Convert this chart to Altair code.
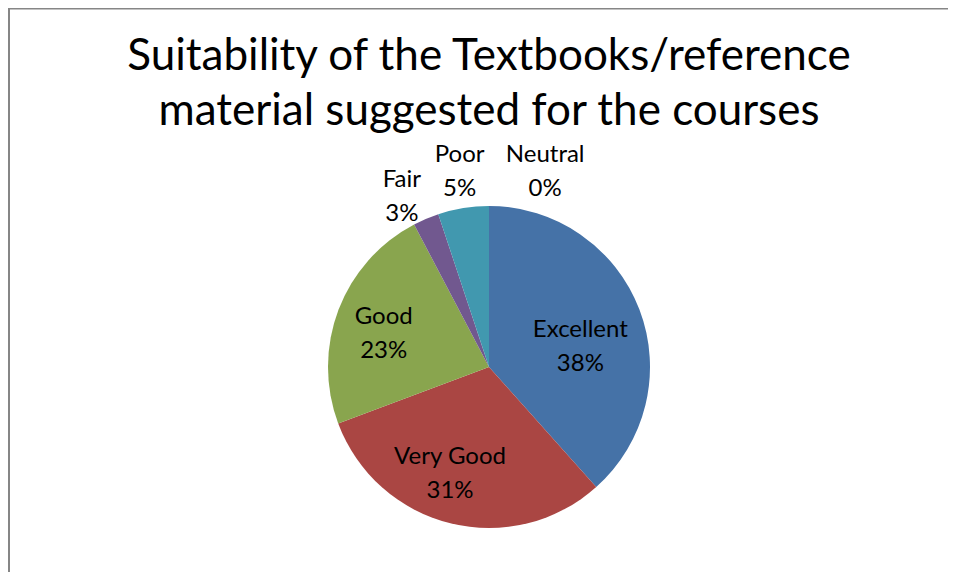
import altair as alt
import pandas as pd

# ---- data ----
categories = ["Excellent", "Very Good", "Good", "Fair", "Poor", "Neutral"]
percent = [38.4, 30.9, 23.0, 2.6, 5.1, 0.0]
title_lines = ["Suitability of the Textbooks/reference", "material suggested for the courses"]

# ---- styling ----
colors = ["#4572A7", "#AA4643", "#89A54E", "#71588F", "#4198AF", "#DB843D"]
label_radius = [94, 112, 111, 193, 199, 205]      # px from centre
label_nudge = [7.3, 6.5, -2.5, -3.8, 0.7, 15.9]   # degrees from slice middle

FONT = "Lato"
W, H = 940, 564
CX, CY, R = 481, 359, 161

df = pd.DataFrame({
    "category": categories,
    "value": percent,
    "idx": list(range(len(categories))),
    "lr": label_radius,
    "ln": label_nudge,
})

base = alt.Chart(df)

pie = base.mark_arc(outerRadius=R, x=CX, y=CY).encode(
    theta=alt.Theta("value:Q", stack=True),
    order=alt.Order("idx:Q"),
    color=alt.Color("category:N", scale=alt.Scale(domain=categories, range=colors), legend=None),
)

labels = base.transform_joinaggregate(
    total="sum(value)"
).transform_window(
    cum="sum(value)", sort=[alt.SortField("idx")], frame=[None, 0]
).transform_calculate(
    ang="((datum.cum - datum.value/2)/datum.total)*2*PI + datum.ln*PI/180",
    lx=f"{CX} + datum.lr*sin(datum.ang)",
    ly=f"{CY} - datum.lr*cos(datum.ang)",
    txt="datum.category + '\\n' + format(datum.value, '.0f') + '%'",
).mark_text(
    font=FONT, fontSize=24, lineBreak="\n", lineHeight=34, baseline="middle",
    align="center", color="#000000", dy=-15,
).encode(
    x=alt.X("lx:Q", scale=None, axis=None),
    y=alt.Y("ly:Q", scale=None, axis=None),
    text="txt:N",
)

title_df = pd.DataFrame({"t": ["\n".join(title_lines)]})
title = alt.Chart(title_df).mark_text(
    font=FONT, fontSize=44, lineBreak="\n", lineHeight=55, baseline="alphabetic",
    align="center", color="#000000",
).encode(x=alt.value(481), y=alt.value(62), text="t:N")

frame_df = pd.DataFrame({"k": [0]})
top_border = alt.Chart(frame_df).mark_rule(color="#868686", strokeWidth=2).encode(
    x=alt.value(0), x2=alt.value(W), y=alt.value(0.5)
)
left_border = alt.Chart(frame_df).mark_rule(color="#868686", strokeWidth=2).encode(
    x=alt.value(1), y=alt.value(0), y2=alt.value(H)
)

chart = alt.layer(top_border, left_border, pie, labels, title).properties(
    width=W,
    height=H,
    autosize=alt.AutoSizeParams(type="none"),
    padding=0,
).configure_view(strokeWidth=0)

chart.save("out.html", embed_options={"renderer": "svg", "actions": False})
